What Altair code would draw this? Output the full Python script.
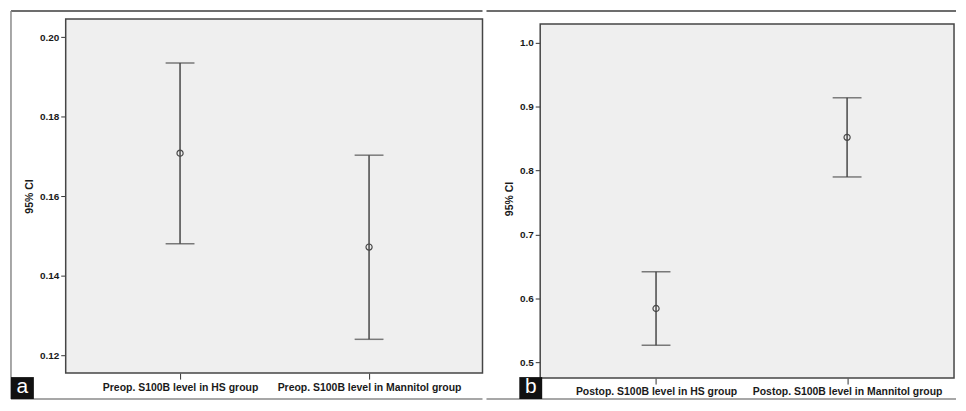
import altair as alt
import pandas as pd

# ---- data ----
groups_a = ["Preop. S100B level in HS group", "Preop. S100B level in Mannitol group"]
mean_a = [0.1708, 0.1472]
lower_a = [0.1480, 0.1240]
upper_a = [0.1935, 0.1703]
ticks_a = [0.12, 0.14, 0.16, 0.18, 0.20]

groups_b = ["Postop. S100B level in HS group", "Postop. S100B level in Mannitol group"]
mean_b = [0.584, 0.852]
lower_b = [0.5265, 0.790]
upper_b = [0.6415, 0.914]
ticks_b = [0.5, 0.6, 0.7, 0.8, 0.9, 1.0]

panel_letters = ["a", "b"]

FONT = "Liberation Sans"
INK = "#474747"
BOX_STROKE = "#454545"
BOX_FILL = "#efefef"


def panel(groups, means, lows, highs, ticks, domain, fmt, W, H, pad, align,
          box_top, top_off, bot_off, x_left, x_right, draw_left, letter, box_x):
    df = pd.DataFrame({"group": groups, "mean": means, "low": lows, "high": highs})
    xenc = alt.X(
        "group:N", sort=groups,
        scale=alt.Scale(type="point", padding=pad, align=align),
        axis=alt.Axis(title=None, labelAngle=0, tickSize=6, labelPadding=3,
                      labelFontSize=10.5, labelFont=FONT, labelFontWeight="bold",
                      labelColor="#1a1a1a", tickColor="#333", domain=False,
                      labelLimit=0),
    )
    yaxis = alt.Axis(values=ticks, format=fmt, title="95% CI", tickSize=5,
                     labelPadding=2, labelFontSize=10, labelFont=FONT,
                     labelFontWeight="bold", labelColor="#1a1a1a", tickColor="#333",
                     titleFont=FONT, titleFontSize=10.5, titleFontWeight="bold",
                     titleColor="#1a1a1a", titlePadding=5, domain=False, grid=False)
    yscale = alt.Scale(domain=domain, nice=False, zero=False)
    one = alt.Chart(pd.DataFrame({"letter": [letter]}))
    base = alt.Chart(df)

    layers = [one.mark_rect(fill=BOX_FILL, stroke=BOX_STROKE, strokeWidth=1.5).encode(
        x=alt.value(0), x2=alt.value(W), y=alt.value(box_top), y2=alt.value(H))]
    layers.append(base.mark_rule(color=INK, strokeWidth=1.5).encode(
        x=xenc, y=alt.Y("low:Q", scale=yscale, axis=yaxis), y2="high:Q"))
    layers.append(base.mark_tick(orient="horizontal", size=29, thickness=1.5, color=INK).encode(
        x=xenc, y=alt.Y("high:Q", scale=yscale, axis=yaxis)))
    layers.append(base.mark_tick(orient="horizontal", size=29, thickness=1.5, color=INK).encode(
        x=xenc, y=alt.Y("low:Q", scale=yscale, axis=yaxis)))
    layers.append(base.mark_point(shape="circle", filled=False, size=38, color=INK,
                                  strokeWidth=1.2, opacity=1).encode(
        x=xenc, y=alt.Y("mean:Q", scale=yscale, axis=yaxis)))

    # figure frame and panel letter
    layers.append(one.mark_rule(color="#3c3c3c", strokeWidth=1.5).encode(
        x=alt.value(x_left), x2=alt.value(W + x_right), y=alt.value(top_off)))
    layers.append(one.mark_rule(color="#8a8a8a", strokeWidth=1.5).encode(
        x=alt.value(x_left), x2=alt.value(W + x_right), y=alt.value(H + bot_off)))
    if draw_left:
        layers.append(one.mark_rule(color="#8a8a8a", strokeWidth=1.5).encode(
            x=alt.value(x_left), y=alt.value(top_off), y2=alt.value(H + bot_off)))
    layers.append(one.mark_rect(color="#111").encode(
        x=alt.value(box_x), x2=alt.value(box_x + 23),
        y=alt.value(H + bot_off - 22), y2=alt.value(H + bot_off)))
    layers.append(one.mark_text(color="white", font=FONT, fontSize=21,
                                align="center", baseline="middle").encode(
        x=alt.value(box_x + 11.5), y=alt.value(H + bot_off - 12), text="letter:N"))
    return alt.layer(*layers).properties(
        width=W, height=H,
        view=alt.ViewBackground(fill="transparent", stroke="transparent"))


pa = panel(groups_a, mean_a, lower_a, upper_a, ticks_a, [0.1155, 0.20455], ".2f",
           W=419, H=356, pad=0.6026, align=0.502, box_top=0, top_off=-8, bot_off=26,
           x_left=-55, x_right=0, draw_left=True, letter=panel_letters[0], box_x=-55)
pb = panel(groups_b, mean_b, lower_b, upper_b, ticks_b, [0.475, 1.0374], ".1f",
           W=416, H=361, pad=0.583, align=0.52, box_top=5, top_off=-8, bot_off=21,
           x_left=-54, x_right=2, draw_left=False, letter=panel_letters[1], box_x=-21)

chart = alt.hconcat(pa, pb, spacing=0).properties(
    padding={"left": 1, "top": 0, "right": 0, "bottom": 0},
    background="white",
)

chart.save("out.html", embed_options={"renderer": "svg", "actions": False})
